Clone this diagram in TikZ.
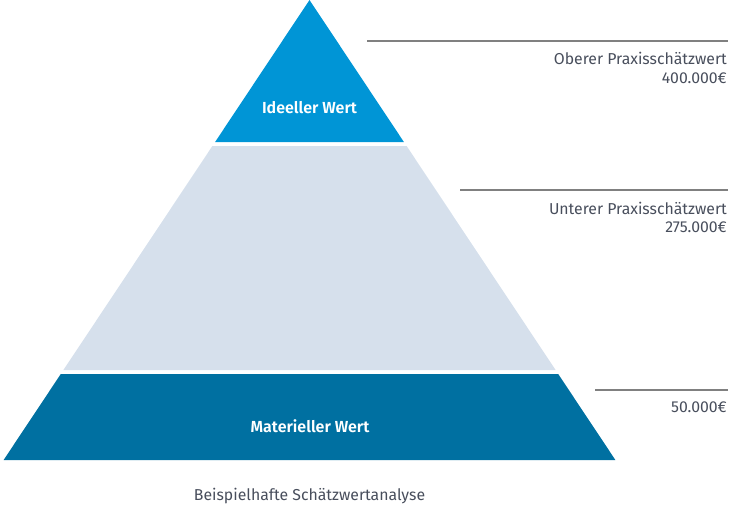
\documentclass[tikz,border=0pt]{standalone}
\usepackage{fontspec}
\setmainfont{Fira Sans}
\newfontfamily\semib{Fira Sans SemiBold}
\definecolor{topblue}{RGB}{0,149,214}
\definecolor{midgray}{RGB}{214,224,236}
\definecolor{botblue}{RGB}{0,112,161}
\definecolor{rulegray}{RGB}{128,128,128}
\definecolor{txtgray}{RGB}{72,78,92}
\tikzset{
  layerlabel/.style={text=white, font=\fontsize{16}{18}\semib, inner sep=0pt, anchor=base},
  valuelabel/.style={text=txtgray, font=\fontsize{15.8}{19}\selectfont, inner sep=0pt, anchor=base east},
  levelrule/.style={draw=rulegray, line width=1.6pt},
}
\begin{document}
\begin{tikzpicture}[x=1pt,y=-1pt]
\useasboundingbox (0,0) rectangle (733,504);
% pyramid layers (apex 309.5,0 ; slope 0.665)
\fill[topblue] (309.5,0) -- (403.9,142) -- (215.1,142) -- cycle;
\fill[midgray] (212.4,146) -- (406.6,146) -- (555.6,370) -- (63.4,370) -- cycle;
\fill[botblue] (60.8,374) -- (558.2,374) -- (615.4,460) -- (3.6,460) -- cycle;
% layer labels
\node[layerlabel] (ideell) at (309.5,113) {Ideeller Wert};
\node[layerlabel] (materiell) at (310,432) {Materieller Wert};
% level rules
\draw[levelrule] (367,41) -- (728,41);
\draw[levelrule] (460,190) -- (728,190);
\draw[levelrule] (595,390) -- (728,390);
% values
\node[valuelabel] (oberer) at (727,64) {Oberer Praxisschätzwert};
\node[valuelabel] (oberwert) at (727,83) {400.000€};
\node[valuelabel] (unterer) at (727,214) {Unterer Praxisschätzwert};
\node[valuelabel] (unterwert) at (727,232) {275.000€};
\node[valuelabel] (matwert) at (727,412) {50.000€};
% caption
\node[text=txtgray, font=\fontsize{15.8}{19}\selectfont, inner sep=0pt, anchor=base] (caption) at (309.5,500) {Beispielhafte Schätzwertanalyse};
\end{tikzpicture}
\end{document}
